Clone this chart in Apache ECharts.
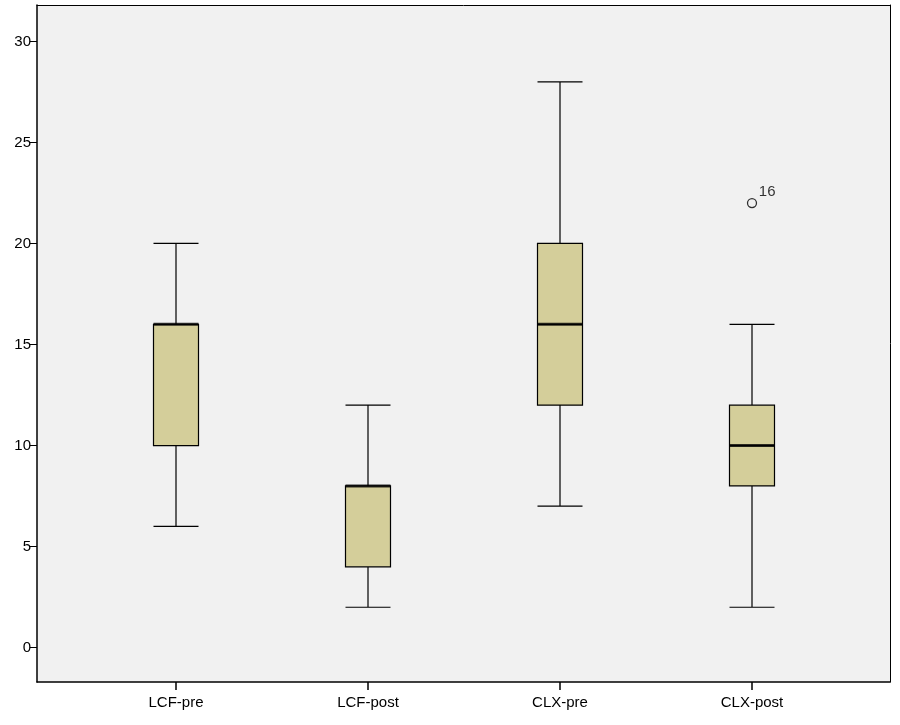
<!DOCTYPE html>
<html><head><meta charset="utf-8">
<script src="https://cdn.jsdelivr.net/npm/echarts@6/dist/echarts.min.js"></script>
<style>html,body{margin:0;padding:0;background:#fff}#c{width:900px;height:725px}</style>
</head><body><div id="c"></div>
<script>
var categories = ['LCF-pre', 'LCF-post', 'CLX-pre', 'CLX-post'];
// min, Q1, median, Q3, max
var boxValues = [
	[6, 10, 16, 16, 20],
	[2, 4, 8, 8, 12],
	[7, 12, 16, 20, 28],
	[2, 8, 10, 12, 16]
];
var outliers = [[3, 22, '16']];
var yTicks = [0, 5, 10, 15, 20, 25, 30];
var yMin = -1.7, yMax = 31.8;

var medians = boxValues.map(function (b, i) { return [i, b[2]]; });

var chart = echarts.init(document.getElementById('c'));
chart.setOption({
	animation: false,
	grid: [
		{ left: 80, right: 52, top: 5, bottom: 43 },
		{ left: 37, right: 10, top: 5, bottom: 43, show: true, backgroundColor: '#f1f1f1', borderWidth: 0 }
	],
	xAxis: [
		{
			type: 'category', data: categories, gridIndex: 0,
			axisLine: { show: false, onZero: false },
			axisTick: { show: true, alignWithLabel: true, length: 8, lineStyle: { color: '#000', width: 1.5 } },
			axisLabel: { color: '#000', fontSize: 15, fontFamily: 'Liberation Sans, Arial', margin: 13 }
		},
		{
			type: 'value', gridIndex: 1, min: 0, max: 1,
			axisLine: { show: true, onZero: false, lineStyle: { color: '#000', width: 1.5 } },
			axisTick: { show: false }, axisLabel: { show: false }, splitLine: { show: false }
		},
		{
			type: 'value', gridIndex: 1, min: 0, max: 1, position: 'top',
			axisLine: { show: true, onZero: false, lineStyle: { color: '#000', width: 1 } },
			axisTick: { show: false }, axisLabel: { show: false }, splitLine: { show: false }
		}
	],
	yAxis: [
		{ type: 'value', gridIndex: 0, min: yMin, max: yMax, show: false },
		{
			type: 'value', gridIndex: 1, min: yMin, max: yMax,
			axisLine: { show: true, onZero: false, lineStyle: { color: '#000', width: 1.5 } },
			axisTick: { show: true, length: 7, customValues: yTicks, lineStyle: { color: '#000' } },
			axisLabel: { color: '#000', fontSize: 15, fontFamily: 'Liberation Sans, Arial', customValues: yTicks, margin: 6 },
			splitLine: { show: false }
		},
		{
			type: 'value', gridIndex: 1, min: yMin, max: yMax, position: 'right',
			axisLine: { show: true, onZero: false, lineStyle: { color: '#000', width: 1 } },
			axisTick: { show: false }, axisLabel: { show: false }, splitLine: { show: false }
		}
	],
	series: [
		{
			type: 'boxplot', xAxisIndex: 0, yAxisIndex: 0,
			data: boxValues,
			boxWidth: [45, 45],
			itemStyle: { color: '#d4ce9a', borderColor: '#000', borderWidth: 1.2 }
		},
		{
			type: 'scatter', xAxisIndex: 0, yAxisIndex: 0,
			data: medians, symbol: 'rect', symbolSize: [45, 3],
			itemStyle: { color: '#000' }
		},
		{
			type: 'scatter', xAxisIndex: 0, yAxisIndex: 0,
			data: outliers, symbol: 'circle', symbolSize: 9,
			itemStyle: { color: 'rgba(0,0,0,0)', borderColor: '#000', borderWidth: 1.3 },
			label: {
				show: true, position: [12, -14], color: '#000', fontSize: 15,
				fontFamily: 'Liberation Sans, Arial',
				formatter: function (p) { return p.data[2]; }
			}
		}
	]
});
</script>
</body></html>
